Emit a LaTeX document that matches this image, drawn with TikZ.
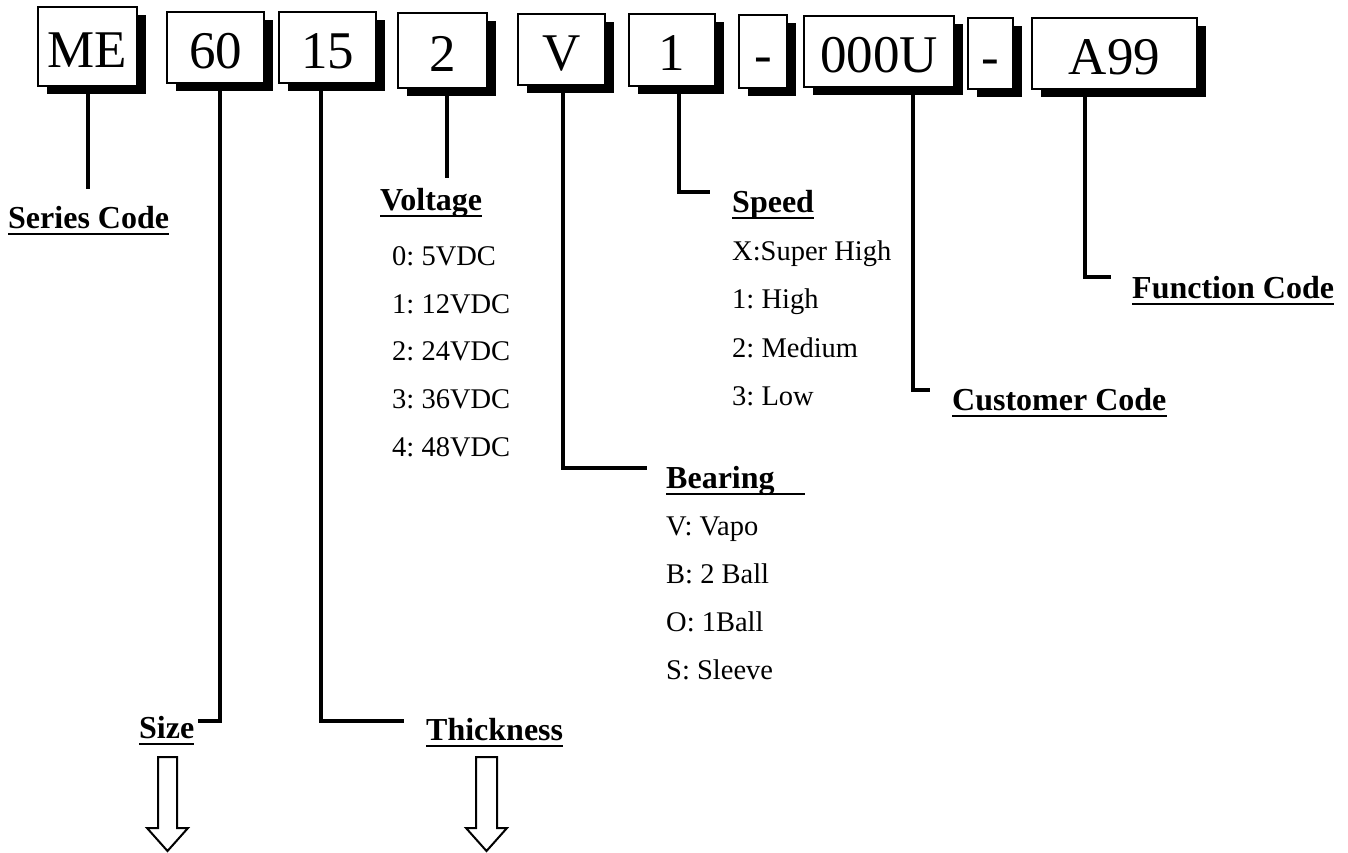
\documentclass[tikz,border=0pt]{standalone}
\usepackage{fontspec}
\setmainfont{Liberation Serif}
\usetikzlibrary{shadows}
\begin{document}
\frenchspacing
\begin{tikzpicture}[x=1pt,y=-1pt,
  codebox/.style={draw=black, line width=2pt, fill=white, inner sep=0pt,
    font=\fontsize{53}{60}\selectfont, text height=42pt, text depth=0pt,
    drop shadow={shadow xshift=9pt, shadow yshift=-8pt, fill=black, opacity=1}},
  conn/.style={line width=4.5pt},
  head/.style={anchor=base west, inner sep=0pt, font=\bfseries\fontsize{32}{36}\selectfont},
  item/.style={anchor=base west, inner sep=0pt, font=\fontsize{28.5}{32}\selectfont},
  uline/.style={line width=2.5pt},
  hollow/.style={draw=black, line width=2pt, fill=white}
]
\useasboundingbox[fill=white] (0,0) rectangle (1348,853);

% code boxes
\node[codebox, minimum width=99pt, minimum height=79pt] (bME) at (87.5,46.5) {ME};
\node[codebox, minimum width=97pt, minimum height=71pt] (b60) at (215.5,47.5) {60};
\node[codebox, minimum width=97pt, minimum height=71pt] (b15) at (327.5,47.5) {15};
\node[codebox, minimum width=89pt, minimum height=75pt] (b2) at (442.5,50.5) {2};
\node[codebox, minimum width=87pt, minimum height=71pt] (bV) at (561.5,49.5) {V};
\node[codebox, minimum width=86pt, minimum height=72pt] (b1) at (672,50) {1};
\node[codebox, minimum width=48pt, minimum height=73pt] (bD1) at (763,51.5) {-};
\node[codebox, minimum width=150pt, minimum height=71pt] (b000U) at (879,51.5) {000U};
\node[codebox, minimum width=45pt, minimum height=71pt] (bD2) at (990.5,53.5) {-};
\node[codebox, minimum width=165pt, minimum height=71pt] (bA99) at (1114.5,53.5) {A99};

% headings
\node[head] (hSeries) at (8,228) {Series Code};
\node[head] (hVolt) at (380,210) {Voltage};
\node[head] (hSpeed) at (732,212) {Speed};
\node[head] (hBear) at (666,488) {Bearing};
\node[head] (hCust) at (952,410) {Customer Code};
\node[head] (hFunc) at (1132,298) {Function Code};
\node[head] (hSize) at (139,738) {Size};
\node[head] (hThick) at (426,740) {Thickness};

\foreach \n in {hSeries,hVolt,hSpeed,hCust,hFunc,hSize,hThick}
  \draw[uline] ([yshift=-6pt]\n.base west) -- ([yshift=-6pt]\n.base east);
\draw[uline] ([yshift=-6pt]hBear.base west) -- ([yshift=-6pt,xshift=30pt]hBear.base east);

% items
\node[item] (v0) at (392,265) {0: 5VDC};
\node[item] (v1) at (392,313) {1: 12VDC};
\node[item] (v2) at (392,360) {2: 24VDC};
\node[item] (v3) at (392,408) {3: 36VDC};
\node[item] (v4) at (392,456) {4: 48VDC};

\node[item] (s0) at (732,260) {X:Super High};
\node[item] (s1) at (732,308) {1: High};
\node[item] (s2) at (732,357) {2: Medium};
\node[item] (s3) at (732,405) {3: Low};

\node[item] (r0) at (666,535) {V: Vapo};
\node[item] (r1) at (666,583) {B: 2 Ball};
\node[item] (r2) at (666,631) {O: 1Ball};
\node[item] (r3) at (666,679) {S: Sleeve};

% connectors
\coordinate (eME) at (88,189);
\draw[conn] (bME.south -| eME) -- (eME);

\coordinate (k60) at (220,721); \coordinate (t60) at (198,721);
\draw[conn] (b60.south -| k60) -- (k60) -- (t60);

\coordinate (k15) at (321,721); \coordinate (t15) at (404,721);
\draw[conn] (b15.south -| k15) -- (k15) -- (t15);

\coordinate (e2) at (447,178);
\draw[conn] (b2.south -| e2) -- (e2);

\coordinate (kV) at (563,468); \coordinate (tV) at (647,468);
\draw[conn] (bV.south -| kV) -- (kV) -- (tV);

\coordinate (k1) at (679,192); \coordinate (t1) at (710,192);
\draw[conn] (b1.south -| k1) -- (k1) -- (t1);

\coordinate (kU) at (913,390); \coordinate (tU) at (930,390);
\draw[conn] (b000U.south -| kU) -- (kU) -- (tU);

\coordinate (kA) at (1085,277); \coordinate (tA) at (1111,277);
\draw[conn] (bA99.south -| kA) -- (kA) -- (tA);

% hollow down arrows
\draw[hollow] (158,757) -- (177,757) -- (177,828) -- (188,828) -- (167.5,851) -- (147,828) -- (158,828) -- cycle;
\draw[hollow] (476,757) -- (497,757) -- (497,828) -- (507,828) -- (486.5,851) -- (466,828) -- (476,828) -- cycle;
\end{tikzpicture}
\end{document}
